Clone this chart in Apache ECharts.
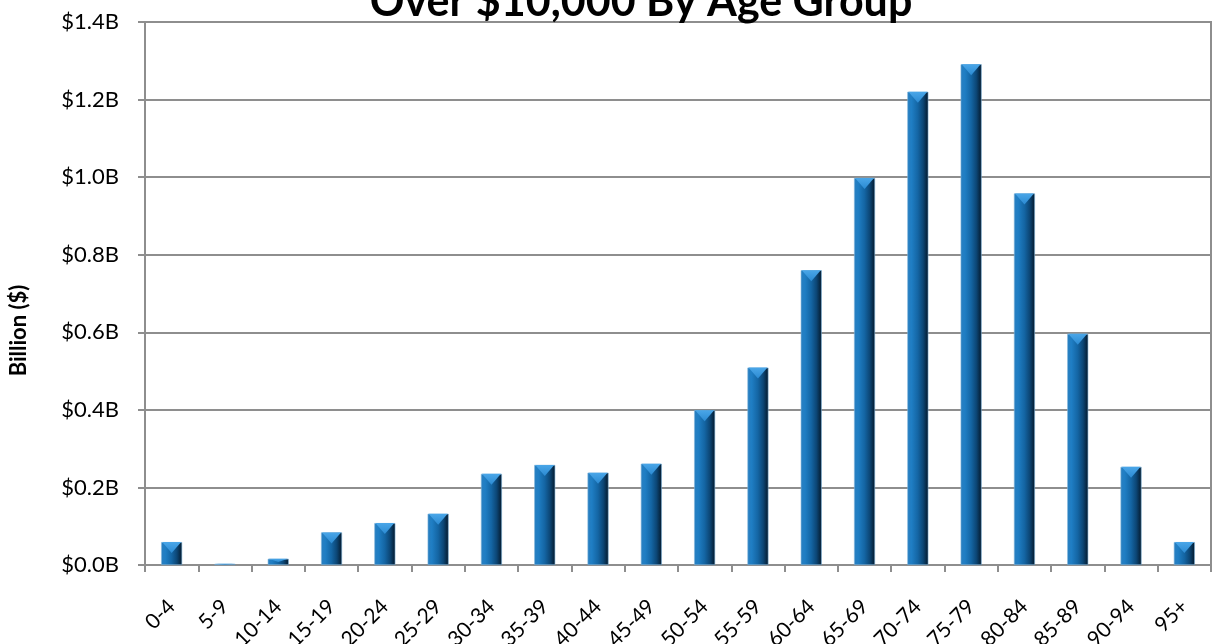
<!DOCTYPE html>
<html>
<head>
<meta charset="utf-8">
<script src="https://cdn.jsdelivr.net/npm/echarts@6/dist/echarts.min.js"></script>
<style>
  html, body { margin: 0; padding: 0; background: #fff; }
  #main { width: 1214px; height: 644px; }
</style>
</head>
<body>
<div id="main"></div>
<script>
// age groups and totals (billions of dollars)
var ageGroups = ['0-4', '5-9', '10-14', '15-19', '20-24', '25-29', '30-34', '35-39', '40-44', '45-49',
  '50-54', '55-59', '60-64', '65-69', '70-74', '75-79', '80-84', '85-89', '90-94', '95+'];
var amounts = [0.059, 0.003, 0.016, 0.084, 0.108, 0.132, 0.235, 0.258, 0.238, 0.261,
  0.399, 0.509, 0.760, 0.998, 1.220, 1.291, 0.958, 0.596, 0.253, 0.059];
var yTicks = [0, 0.2, 0.4, 0.6, 0.8, 1.0, 1.2, 1.4];

var myChart = echarts.init(document.getElementById('main'));

var font = 'Lato, "Open Sans", sans-serif';
var gray = '#8e8e8e';
var pxPerUnit = 543 / 1.4;

var option = {
  backgroundColor: '#fff',
  animation: false,
  title: {
    text: 'Over $10,000 By Age Group',
    left: 636,
    textAlign: 'center',
    top: -24,
    textStyle: {
      fontFamily: font,
      fontWeight: 'bold',
      fontSize: 43,
      color: '#000'
    }
  },
  grid: {
    left: 145,
    right: 3,
    top: 22,
    bottom: 79,
    outerBoundsMode: 'none',
    containLabel: false,
    show: true,
    borderColor: gray,
    borderWidth: 2,
    backgroundColor: 'transparent'
  },
  xAxis: {
    type: 'category',
    data: ageGroups,
    axisLine: { lineStyle: { color: gray, width: 2 } },
    axisTick: { show: true, length: 7, lineStyle: { color: gray, width: 2 } },
    axisLabel: {
      rotate: 45,
      margin: 38,
      interval: 0,
      color: '#000',
      fontFamily: font,
      fontSize: 21
    }
  },
  yAxis: {
    type: 'value',
    min: 0,
    max: 1.4,
    interval: 0.2,
    name: 'Billion ($)',
    nameLocation: 'middle',
    nameGap: 115,
    nameTextStyle: {
      fontFamily: font,
      fontWeight: 'bold',
      fontSize: 22,
      color: '#000',
      // push the name a bit lower than the axis middle
      padding: [0, 74, 0, 0]
    },
    axisLine: { show: true, lineStyle: { color: gray, width: 2 } },
    axisTick: { show: true, length: 7, lineStyle: { color: gray, width: 2 } },
    splitLine: { lineStyle: { color: gray, width: 2 } },
    axisLabel: {
      margin: 26,
      color: '#000',
      fontFamily: font,
      fontSize: 22,
      customValues: yTicks,
      formatter: function (v) { return '$' + v.toFixed(1) + 'B'; }
    }
  },
  series: [
    {
      name: 'Amount',
      type: 'bar',
      data: amounts,
      barWidth: 21,
      itemStyle: {
        borderColor: '#7fb6dc',
        borderWidth: 0.6,
        color: new echarts.graphic.LinearGradient(0, 0, 1, 0, [
          { offset: 0, color: '#2a7fc0' },
          { offset: 0.2, color: '#1f7ec4' },
          { offset: 0.5, color: '#1465a3' },
          { offset: 0.75, color: '#0c4675' },
          { offset: 1, color: '#04182a' }
        ])
      }
    },
    {
      // bevel at the top of each bar
      name: 'bevel',
      type: 'pictorialBar',
      data: amounts,
      symbol: 'path://M0,0 L2,0 L1,1 Z',
      symbolPosition: 'end',
      symbolSize: function (v) { return [19, Math.min(11, v * pxPerUnit / 2)]; },
      z: 3,
      itemStyle: {
        color: new echarts.graphic.LinearGradient(0, 0, 0, 1, [
          { offset: 0, color: '#4aa6e8' },
          { offset: 1, color: '#2b8ad2' }
        ])
      }
    }
  ]
};

myChart.setOption(option);
</script>
</body>
</html>
